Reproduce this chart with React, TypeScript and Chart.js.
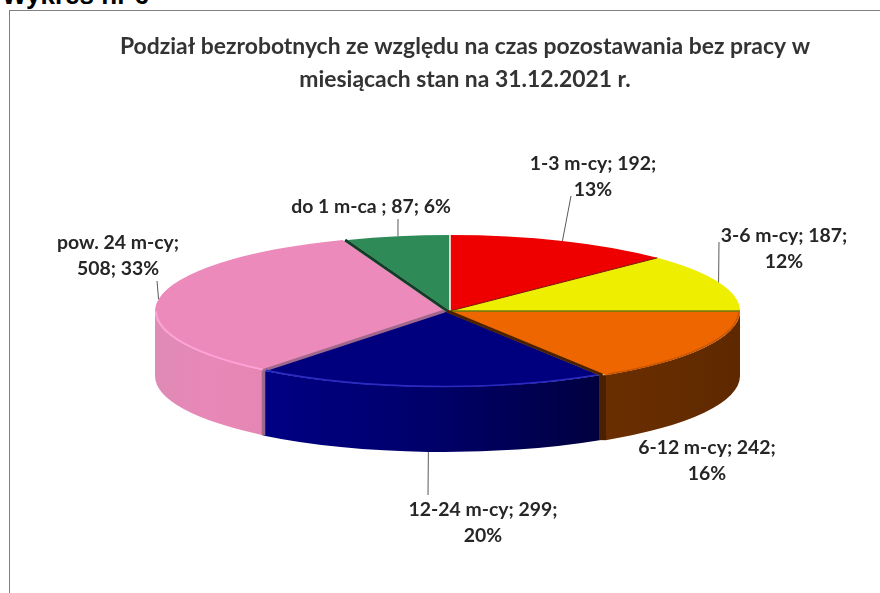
import React, { useEffect, useRef } from "react";
import { Chart, registerables } from "chart.js";

Chart.register(...registerables);

// ---- data ----
const categories = ["do 1 m-ca ", "1-3 m-cy", "3-6 m-cy", "6-12 m-cy", "12-24 m-cy", "pow. 24 m-cy"];
const counts = [87, 192, 187, 242, 299, 508];
const percents = [6, 13, 12, 16, 20, 33];
const titleLines = [
  "Podział bezrobotnych ze względu na czas pozostawania bez pracy w",
  "miesiącach stan na 31.12.2021 r.",
];
const heading = "Wykres nr 6";

// ---- styles ----
const topColors = ["#2E8B57", "#EE0000", "#EEEE00", "#EE6600", "#00007F", "#EC8ABB"];
const sideLeft = ["#1e5c3a", "#7a0000", "#7a7a00", "#6A2E00", "#000084", "#E08AB6"];
const sideMid = ["#1e5c3a", "#7a0000", "#7a7a00", "#652C00", "#00006A", "#E888B8"];
const sideRight = ["#1e5c3a", "#7a0000", "#7a7a00", "#5E2800", "#000040", "#E586B4"];
const rimColors = ["", "", "", "#C85600", "#2A2AC0", "#FFA2D8"];
const cutColors = ["#0F3D25", "#FFFFFF", "#7A0A0A", "#6B7A10", "#4A2000", "#A0688C"];
const cutWidths = [3, 1.5, 1, 1.5, 3, 3];
const stripWidths = [0, 0, 0, 0, 7, 3.5];

// ---- layout ----
const CX = 450;
const CY = 311;
const RX = 290;
const RY = 76;
const DEPTH = 65;
const nudgeX = [0, 0, 0, 0, -6, -5];
const labelCenters = [
  [371, 207],
  [593, 164],
  [784, 236],
  [707, 448],
  [483, 510],
  [118, 243],
];
const labelBreakAfter = [3, 2, 2, 2, 2, 1];
const leaderEnds: (number[] | null)[] = [
  [398, 219],
  [571, 196],
  [719, 242],
  null,
  [428, 495],
  [157, 281],
];
const LABEL_FONT = "bold 19.4px Lato";
const LINE_GAP = 25.5;

const pie3d = {
  id: "pie3d",
  beforeDatasetsDraw(chart: any) {
    const ctx: CanvasRenderingContext2D = chart.ctx;
    const arcs = chart.getDatasetMeta(0).data;

    const front = (el: any) => {
      const a = Math.max(el.startAngle, 0);
      const b = Math.min(el.endAngle, Math.PI);
      return b > a ? [a, b] : null;
    };

    // side walls
    arcs.forEach((el: any, i: number) => {
      const f = front(el);
      if (!f) return;
      const cx = CX + nudgeX[i];
      const x1 = cx + RX * Math.cos(f[0]);
      const x2 = cx + RX * Math.cos(f[1]);
      const grad = ctx.createLinearGradient(Math.min(x1, x2), 0, Math.max(x1, x2), 0);
      grad.addColorStop(0, sideLeft[i]);
      grad.addColorStop(0.5, sideMid[i]);
      grad.addColorStop(1, sideRight[i]);
      ctx.save();
      ctx.beginPath();
      ctx.ellipse(cx, CY, RX, RY, 0, f[0], f[1]);
      ctx.ellipse(cx, CY + DEPTH, RX, RY, 0, f[1], f[0], true);
      ctx.closePath();
      ctx.fillStyle = grad;
      ctx.fill();
      ctx.restore();
    });

    // the strip between the walls of pulled-out slices
    arcs.forEach((el: any, i: number) => {
      if (!stripWidths[i]) return;
      const prev = i - 1;
      const x = (CX + nudgeX[i] + CX + nudgeX[prev]) / 2 + RX * Math.cos(el.startAngle);
      const y = CY + RY * Math.sin(el.startAngle);
      ctx.save();
      ctx.beginPath();
      ctx.moveTo(x, y);
      ctx.lineTo(x, y + DEPTH);
      ctx.strokeStyle = cutColors[i];
      ctx.lineWidth = stripWidths[i];
      ctx.stroke();
      ctx.restore();
    });

    // top faces, through the library's own arc elements
    arcs.forEach((el: any, i: number) => {
      const r = el.outerRadius;
      ctx.save();
      ctx.translate(CX + nudgeX[i], CY);
      ctx.scale(RX / r, RY / r);
      ctx.translate(-el.x, -el.y);
      el.draw(ctx);
      ctx.restore();
    });

    // cut faces visible through the small gaps between pulled-out slices
    arcs.forEach((el: any, i: number) => {
      const prev = (i + arcs.length - 1) % arcs.length;
      const shift = (nudgeX[i] + nudgeX[prev]) / 2;
      ctx.save();
      ctx.beginPath();
      ctx.moveTo(CX + shift, CY);
      ctx.lineTo(CX + shift + RX * Math.cos(el.startAngle), CY + RY * Math.sin(el.startAngle));
      ctx.strokeStyle = cutColors[i];
      ctx.lineWidth = cutWidths[i];
      ctx.stroke();
      ctx.restore();
    });

    // rim highlight
    arcs.forEach((el: any, i: number) => {
      const f = front(el);
      if (!f || !rimColors[i]) return;
      ctx.save();
      ctx.beginPath();
      ctx.ellipse(CX + nudgeX[i], CY - 0.5, RX - 1, RY, 0, f[0] + 0.01, f[1] - 0.01);
      ctx.strokeStyle = rimColors[i];
      ctx.lineWidth = 1.6;
      ctx.stroke();
      ctx.restore();
    });

    // leaders and labels
    arcs.forEach((el: any, i: number) => {
      const mid = (el.startAngle + el.endAngle) / 2;
      const end = leaderEnds[i];
      if (end) {
        const sin = Math.sin(mid);
        const sx = CX + nudgeX[i] + RX * Math.cos(mid);
        const sy = CY + RY * sin + (sin > 0 ? DEPTH : 0);
        ctx.save();
        ctx.beginPath();
        ctx.moveTo(sx, sy);
        ctx.lineTo(end[0], end[1]);
        ctx.strokeStyle = "#595959";
        ctx.lineWidth = 1;
        ctx.stroke();
        ctx.restore();
      }
      const parts = [categories[i] + ";", counts[i] + ";", percents[i] + "%"];
      const brk = labelBreakAfter[i];
      const lines = [parts.slice(0, brk).join(" ")];
      if (brk < 3) lines.push(parts.slice(brk).join(" "));
      ctx.save();
      ctx.font = LABEL_FONT;
      ctx.fillStyle = "#262626";
      ctx.textAlign = "center";
      ctx.textBaseline = "middle";
      lines.forEach((t, k) => ctx.fillText(t, labelCenters[i][0], labelCenters[i][1] + k * LINE_GAP));
      ctx.restore();
    });

    return false;
  },
};

export default function App() {
  const ref = useRef<HTMLCanvasElement | null>(null);
  useEffect(() => {
    document.body.style.margin = "0";
    document.body.style.overflow = "hidden";
    const chart = new Chart(ref.current as HTMLCanvasElement, {
      type: "pie",
      data: {
        labels: categories,
        datasets: [
          {
            data: counts,
            backgroundColor: topColors,
            borderWidth: 0,
          },
        ],
      },
      options: {
        responsive: false,
        animation: false,
        rotation: (-counts[0] / counts.reduce((a, b) => a + b, 0)) * 360,
        layout: { padding: { left: 50, top: 20 } },
        plugins: {
          legend: { display: false },
          tooltip: { enabled: false },
          title: {
            display: true,
            text: titleLines,
            color: "#333333",
            font: { family: "Lato", size: 22.9, weight: "bold", lineHeight: 1.44 },
            padding: { top: 10, bottom: 10 },
          },
        },
      },
      plugins: [pie3d],
    } as any);
    return () => chart.destroy();
  }, []);

  return (
    <div style={{ position: "relative", width: 880, height: 593, overflow: "hidden", background: "#fff" }}>
      <div
        style={{
          position: "absolute",
          left: 2,
          top: -20,
          font: "bold 26px 'Liberation Sans'",
          color: "#000",
          whiteSpace: "nowrap",
        }}
      >
        {heading}
      </div>
      <div
        style={{
          position: "absolute",
          left: 9,
          top: 10,
          width: 871,
          height: 583,
          borderLeft: "1px solid #808080",
          borderTop: "1px solid #808080",
        }}
      />
      <canvas ref={ref} width={880} height={593} style={{ position: "absolute", left: 0, top: 0 }} />
    </div>
  );
}
